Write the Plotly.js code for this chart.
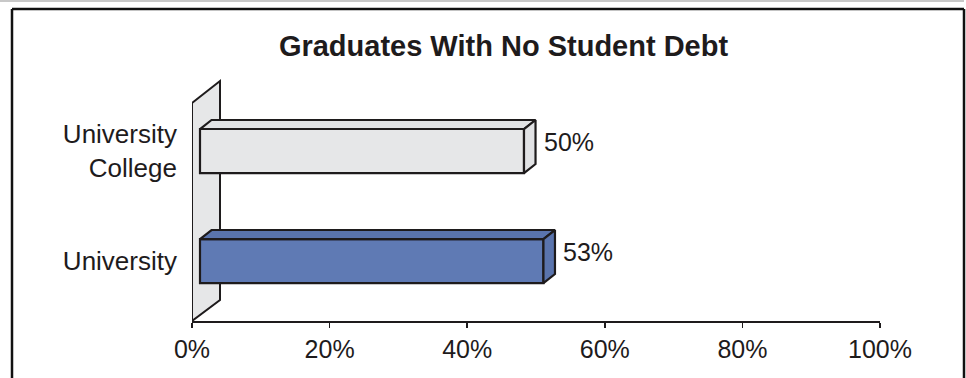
<!DOCTYPE html>
<html><head><meta charset="utf-8">
<script src="https://cdn.plot.ly/plotly-3.0.1.min.js"></script>
<style>html,body{margin:0;padding:0;background:#fff}#chart{width:966px;height:378px}</style>
</head><body><div id="chart"></div><script>
// ---- data ----
const categories = ['University', 'University College'];
const categoryLabels = ['University', 'University<br>College'];
const values = [53, 50];
const xTicks = [0, 20, 40, 60, 80, 100];
const xTickLabels = ['0%', '20%', '40%', '60%', '80%', '100%'];

// ---- styles ----
const frontColors = ['#5f7ab4', '#e6e7e8'];
const faceColors = ['#5a74ad', '#e1e2e4'];
const INK = '#1e1b1c';
const FONT = 'Liberation Sans, Arial, Helvetica, sans-serif';
const BAR_W = 0.4, DX = 1.78, DY = 0.082;

const yPos = categories.map((_, i) => i);
const traces = [{type: 'scatter', x: [], y: [], showlegend: false, hoverinfo: 'skip'}];

traces.push({
  type: 'bar', orientation: 'h', x: values, y: yPos, width: BAR_W,
  xaxis: 'x2', yaxis: 'y',
  marker: {color: frontColors, line: {color: INK, width: 2.2}},
  hoverinfo: 'none', showlegend: false
});

values.forEach((v, i) => {
  const t = yPos[i] + BAR_W / 2, b = yPos[i] - BAR_W / 2;
  traces.push({
    type: 'scatter', mode: 'lines', xaxis: 'x2', yaxis: 'y',
    x: [0, DX, v + DX, v, 0], y: [t, t + DY, t + DY, t, t],
    fill: 'toself', fillcolor: faceColors[i],
    line: {color: INK, width: 2.2}, showlegend: false, hoverinfo: 'skip'
  });
  traces.push({
    type: 'scatter', mode: 'lines', xaxis: 'x2', yaxis: 'y',
    x: [v, v + DX, v + DX, v, v], y: [t, t + DY, b + DY, b, t],
    fill: 'toself', fillcolor: faceColors[i],
    line: {color: INK, width: 2.2}, showlegend: false, hoverinfo: 'skip'
  });
});

const annotations = values.map((v, i) => ({
  xref: 'x2', yref: 'y', x: v + DX, y: yPos[i] + DY,
  text: v + '%', showarrow: false, xanchor: 'left', yanchor: 'middle', xshift: 6,
  font: {family: FONT, size: 25, color: INK}
}));

const px = p => (p - 192) / 688;
const py = p => (321 - p) / 246;

const shapes = [
  {type: 'path', xref: 'x', yref: 'y', layer: 'below',
   path: 'M 0,-0.545 L 0,1.436 L 4.07,1.636 L 4.07,-0.355 Z',
   fillcolor: '#e6e7e8', line: {color: INK, width: 2}},
  {type: 'line', xref: 'paper', yref: 'paper', x0: px(0), x1: px(964), y0: py(1), y1: py(1), line: {color: '#c8c8c8', width: 2}},
  {type: 'line', xref: 'paper', yref: 'paper', x0: px(12), x1: px(964), y0: py(9), y1: py(9), line: {color: '#111', width: 2.5}},
  {type: 'line', xref: 'paper', yref: 'paper', x0: px(12), x1: px(12), y0: py(9), y1: py(390), line: {color: '#111', width: 2.5}},
  {type: 'line', xref: 'paper', yref: 'paper', x0: px(964), x1: px(964), y0: py(9), y1: py(390), line: {color: '#111', width: 2.5}}
];

const layout = {
  width: 966, height: 378,
  margin: {l: 192, r: 86, t: 75, b: 57},
  paper_bgcolor: '#ffffff', plot_bgcolor: 'rgba(0,0,0,0)',
  font: {family: FONT, color: INK, size: 25},
  title: {text: '<b>Graduates With No Student Debt</b>',
          font: {family: FONT, size: 29, color: INK},
          xref: 'container', yref: 'container', x: 503.5 / 966, y: 1 - 46 / 378,
          xanchor: 'center', yanchor: 'middle'},
  xaxis: {range: [0, 100], tickvals: xTicks, ticktext: xTickLabels,
          showline: true, linecolor: INK, linewidth: 2,
          ticks: 'outside', ticklen: 5, tickwidth: 1.5, tickcolor: INK,
          showgrid: false, zeroline: false, fixedrange: true,
          tickfont: {family: FONT, size: 25, color: INK}},
  xaxis2: {overlaying: 'x', range: [-8 / 6.48, 680 / 6.48], visible: false, fixedrange: true},
  yaxis: {range: [-0.545, 1.691], tickvals: yPos, ticktext: categoryLabels,
          showgrid: false, zeroline: false, showline: false, ticks: '',
          ticklabelstandoff: 14, fixedrange: true,
          tickfont: {family: FONT, size: 26, color: INK}},
  shapes: shapes,
  annotations: annotations,
  showlegend: false,
  bargap: 0
};

Plotly.newPlot('chart', traces, layout, {displayModeBar: false, staticPlot: true});
</script></body></html>
